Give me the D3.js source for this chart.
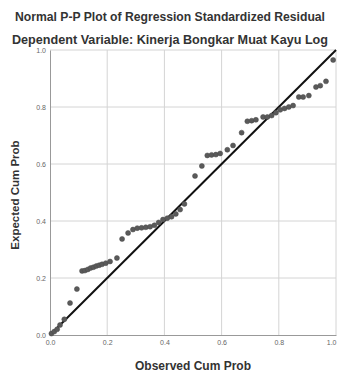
<!DOCTYPE html>
<html><head><meta charset="utf-8">
<script src="https://cdn.jsdelivr.net/npm/d3@7"></script>
<style>body{margin:0;background:#fff}svg{display:block}</style>
</head><body>
<script>
const titleLines = ["Normal P-P Plot of Regression Standardized Residual", "Dependent Variable: Kinerja Bongkar Muat Kayu Log"];
const xLabel = "Observed Cum Prob";
const yLabel = "Expected Cum Prob";
const tickValues = [0, 0.2, 0.4, 0.6, 0.8, 1.0];
const observed = [0.005,0.015,0.025,0.035,0.05,0.07,0.094,0.112,0.122,0.132,0.142,0.152,0.162,0.172,0.182,0.195,0.21,0.234,0.252,0.273,0.29,0.305,0.32,0.335,0.35,0.365,0.38,0.395,0.41,0.425,0.44,0.455,0.47,0.507,0.531,0.55,0.565,0.58,0.595,0.62,0.64,0.67,0.69,0.705,0.72,0.745,0.76,0.775,0.79,0.805,0.82,0.835,0.85,0.87,0.885,0.905,0.93,0.945,0.965,0.99];
const expected = [0.005,0.012,0.02,0.035,0.055,0.112,0.161,0.225,0.226,0.23,0.235,0.238,0.242,0.245,0.248,0.252,0.258,0.27,0.337,0.358,0.37,0.375,0.376,0.378,0.38,0.385,0.395,0.405,0.41,0.415,0.425,0.44,0.46,0.558,0.593,0.63,0.632,0.633,0.637,0.65,0.665,0.71,0.75,0.752,0.755,0.765,0.765,0.77,0.78,0.79,0.795,0.8,0.805,0.835,0.835,0.84,0.87,0.875,0.89,0.965];

const W = 337, H = 373;
const font = "Liberation Sans, Arial, sans-serif";
const svg = d3.select("body").append("svg").attr("width", W).attr("height", H);
const x = d3.scaleLinear().domain([0, 1]).range([50, 336]);
const y = d3.scaleLinear().domain([0, 1]).range([335, 50]);

svg.selectAll("text.title").data(titleLines).join("text")
  .attr("x", 170).attr("y", (d, i) => 21 + i * 23)
  .attr("text-anchor", "middle")
  .attr("font-family", font)
  .attr("font-weight", "bold").attr("font-size", 12).attr("fill", "#333")
  .attr("textLength", (d, i) => i === 0 ? 310 : 316).attr("lengthAdjust", "spacingAndGlyphs")
  .text(d => d);

// grid
svg.append("g").selectAll("line").data(tickValues.slice(1)).join("line")
  .attr("x1", d => x(d)).attr("x2", d => x(d)).attr("y1", y(1)).attr("y2", y(0))
  .attr("stroke", "#d4d4d4").attr("stroke-width", 1);
svg.append("g").selectAll("line").data(tickValues.slice(1)).join("line")
  .attr("y1", d => y(d)).attr("y2", d => y(d)).attr("x1", x(0)).attr("x2", x(1))
  .attr("stroke", "#d4d4d4").attr("stroke-width", 1);

// axes
const xAxis = svg.append("g").attr("transform", `translate(0,${y(0)})`)
  .call(d3.axisBottom(x).tickValues(tickValues).tickFormat(d3.format(".1f")).tickSize(0).tickPadding(5));
const yAxis = svg.append("g").attr("transform", `translate(${x(0)},0)`)
  .call(d3.axisLeft(y).tickValues(tickValues).tickFormat(d3.format(".1f")).tickSize(0).tickPadding(4));
[xAxis, yAxis].forEach(a => {
  a.select(".domain").attr("stroke", "#999");
  a.selectAll("text").attr("font-family", font).attr("font-size", 7).attr("fill", "#666");
});
xAxis.selectAll(".tick").filter(d => d === 1).select("text").attr("text-anchor", "end");

// reference line
svg.append("line")
  .attr("x1", x(0)).attr("y1", y(0)).attr("x2", x(1)).attr("y2", y(1))
  .attr("stroke", "#111").attr("stroke-width", 2);

// points
svg.append("g").selectAll("circle").data(observed).join("circle")
  .attr("cx", d => x(d)).attr("cy", (d, i) => y(expected[i]))
  .attr("r", 2.5).attr("fill", "#5a5a5a").attr("stroke", "#4a4a4a").attr("stroke-width", 0.5);

svg.append("text").attr("x", 193).attr("y", 370).attr("text-anchor", "middle")
  .attr("font-family", font).attr("font-weight", "bold")
  .attr("font-size", 12).attr("fill", "#333").text(xLabel);
svg.append("text").attr("transform", "translate(19,195) rotate(-90)").attr("text-anchor", "middle")
  .attr("font-family", font).attr("font-weight", "bold")
  .attr("font-size", 11.5).attr("fill", "#333").text(yLabel);
</script>
</body></html>
